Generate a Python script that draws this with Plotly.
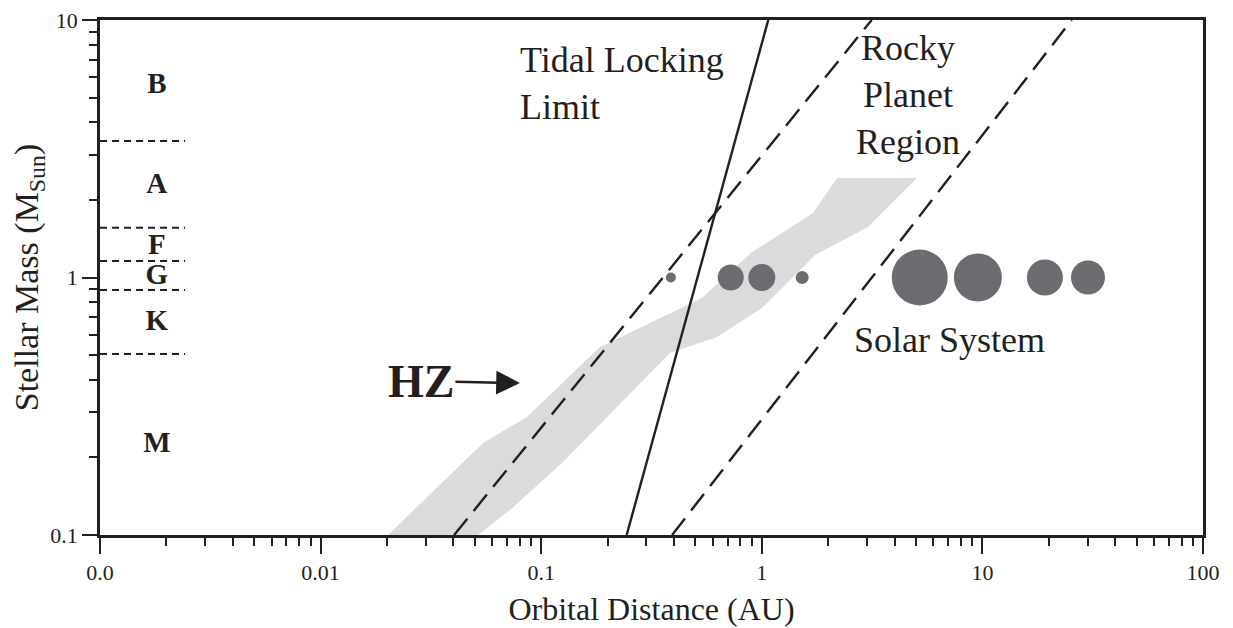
import plotly.graph_objects as go
import numpy as np

# ---------------- data ----------------
# Solar system planets (AU) at 1 solar mass; marker diameters in px
planet_names = ["Mercury", "Venus", "Earth", "Mars", "Jupiter", "Saturn", "Uranus", "Neptune"]
planet_dist = [0.387, 0.723, 1.0, 1.524, 5.20, 9.54, 19.2, 30.1]
planet_mass = [1, 1, 1, 1, 1, 1, 1, 1]
planet_size = [10, 26, 27, 13, 56, 48, 36, 34]

# Habitable zone band outline (AU, solar masses)
hz_dist = [0.0202, 0.0545, 0.0862, 0.1847, 0.5356, 0.9029, 1.707, 2.192, 5.052,
           3.029, 1.743, 1.002, 0.6263, 0.3836, 0.1256, 0.0722, 0.0517]
hz_mass = [0.1, 0.2277, 0.2872, 0.537, 0.8324, 1.256, 1.780, 2.434, 2.434,
           1.571, 1.223, 0.7614, 0.5873, 0.509, 0.1921, 0.125, 0.1]

# Tidal locking limit (solid line)
tidal_dist = [0.244, 1.07]
tidal_mass = [0.1, 10]

# Rocky planet region boundaries (dashed lines)
rocky_inner_dist = [0.0403, 3.15]
rocky_inner_mass = [0.1, 10]
rocky_outer_dist = [0.392, 25.4]
rocky_outer_mass = [0.1, 10]

# Spectral classes
spec_classes = ["B", "A", "F", "G", "K", "M"]
spec_label_mass = [5.54, 2.27, 1.32, 1.01, 0.666, 0.224]
spec_boundaries = [3.39, 1.56, 1.16, 0.894, 0.505]
spec_label_dist = 0.00181
spec_line_dist = [0.001, 0.00243]

# HZ arrow tip
hz_arrow_dist = 0.0801
hz_arrow_mass = 0.389

# Axis ticks
x_tickvals = [0.001, 0.01, 0.1, 1, 10, 100]
x_ticktext = ["0.0", "0.01", "0.1", "1", "10", "100"]
y_tickvals = [0.1, 1, 10]
y_ticktext = ["0.1", "1", "10"]

# --------------------------------------
INK = "#231f20"
FONT = "Liberation Serif"

x_minor = [d * 10.0 ** k for k in range(-3, 2) for d in range(2, 10)]
y_minor = [d * 10.0 ** k for k in range(-1, 1) for d in range(2, 10)]

fig = go.Figure()

# HZ band
fig.add_trace(go.Scatter(x=hz_dist, y=hz_mass, mode="lines", fill="toself",
                         fillcolor="#dadbdc", line=dict(width=0, color="#dadbdc"),
                         hoverinfo="skip", showlegend=False))

# Spectral class dividers
for m in spec_boundaries:
    fig.add_trace(go.Scatter(x=spec_line_dist, y=[m, m], mode="lines",
                             line=dict(color=INK, width=2, dash="7px,5px"),
                             hoverinfo="skip", showlegend=False))

# Rocky planet region
fig.add_trace(go.Scatter(x=rocky_inner_dist, y=rocky_inner_mass, mode="lines",
                         line=dict(color=INK, width=2.4, dash="21px,10px"),
                         showlegend=False))
fig.add_trace(go.Scatter(x=rocky_outer_dist, y=rocky_outer_mass, mode="lines",
                         line=dict(color=INK, width=2.4, dash="21px,10px"),
                         showlegend=False))

# Tidal locking limit
fig.add_trace(go.Scatter(x=tidal_dist, y=tidal_mass, mode="lines",
                         line=dict(color=INK, width=2.4), showlegend=False))

# Planets
fig.add_trace(go.Scatter(x=planet_dist, y=planet_mass, mode="markers",
                         marker=dict(size=planet_size, color="#6b6c70", opacity=1,
                                     line=dict(width=0)),
                         text=planet_names, hoverinfo="text", showlegend=False))

# Spectral class letters
fig.add_trace(go.Scatter(x=[spec_label_dist] * len(spec_classes), y=spec_label_mass,
                         mode="text", text=[f"<b>{c}</b>" for c in spec_classes],
                         textfont=dict(family=FONT, size=29, color=INK),
                         textposition="middle center", hoverinfo="skip",
                         showlegend=False))


def px_to_paper(px, py):
    return (px - 100) / 1103.0, (535 - py) / 515.0


annos = []
x, y = px_to_paper(518, 83)
annos.append(dict(text="Tidal Locking<br>Limit", x=x, y=y, xref="paper", yref="paper",
                  xanchor="left", yanchor="middle", align="left", showarrow=False,
                  font=dict(family=FONT, size=36, color=INK)))
x, y = px_to_paper(908, 95)
annos.append(dict(text="Rocky<br>Planet<br>Region", x=x, y=y, xref="paper", yref="paper",
                  xanchor="center", yanchor="middle", align="center", showarrow=False,
                  font=dict(family=FONT, size=36, color=INK)))
x, y = px_to_paper(852, 340)
annos.append(dict(text="Solar System", x=x, y=y, xref="paper", yref="paper",
                  xanchor="left", yanchor="middle", align="left", showarrow=False,
                  font=dict(family=FONT, size=36, color=INK)))
# HZ label with arrow (log axes: annotation coordinates in log10 units)
annos.append(dict(text="<b>HZ</b>", x=np.log10(hz_arrow_dist), y=np.log10(hz_arrow_mass),
                  xref="x", yref="y", ax=-99, ay=-2, showarrow=True, arrowhead=2,
                  arrowsize=1.9, arrowwidth=2.5, arrowcolor=INK, standoff=0,
                  font=dict(family=FONT, size=46, color=INK)))

fig.update_layout(
    width=1233, height=628,
    margin=dict(l=100, r=30, t=20, b=93, autoexpand=False),
    paper_bgcolor="white", plot_bgcolor="white",
    font=dict(family=FONT, color=INK),
    annotations=annos,
    xaxis=dict(type="log", range=[-3, 2], tickmode="array", tickvals=x_tickvals,
               ticktext=x_ticktext, ticks="outside", ticklen=16, tickwidth=2,
               tickcolor=INK, showline=True, linewidth=2.5, linecolor=INK,
               mirror=True, showgrid=False, zeroline=False, automargin=False,
               ticklabeloverflow="allow",
               tickfont=dict(family=FONT, size=22, color=INK),
               minor=dict(tickvals=x_minor, ticks="outside", ticklen=8, tickwidth=2,
                          tickcolor=INK, showgrid=False),
               title=dict(text="Orbital Distance (AU)", standoff=14,
                          font=dict(family=FONT, size=32, color=INK))),
    yaxis=dict(type="log", range=[-1, 1], tickmode="array", tickvals=y_tickvals,
               ticktext=y_ticktext, ticks="outside", ticklen=15, tickwidth=2,
               tickcolor=INK, showline=True, linewidth=2.5, linecolor=INK,
               mirror=True, showgrid=False, zeroline=False, automargin=False,
               ticklabeloverflow="allow",
               tickfont=dict(family=FONT, size=22, color=INK),
               minor=dict(tickvals=y_minor, ticks="outside", ticklen=8, tickwidth=2,
                          tickcolor=INK, showgrid=False),
               title=dict(text="Stellar Mass (M<sub>Sun</sub>)", standoff=2,
                          font=dict(family=FONT, size=34, color=INK))),
)

fig.write_html("out.html",
               config={"displayModeBar": False},
               post_script="document.body.style.margin='0';"
                           "document.body.style.overflow='hidden';")
